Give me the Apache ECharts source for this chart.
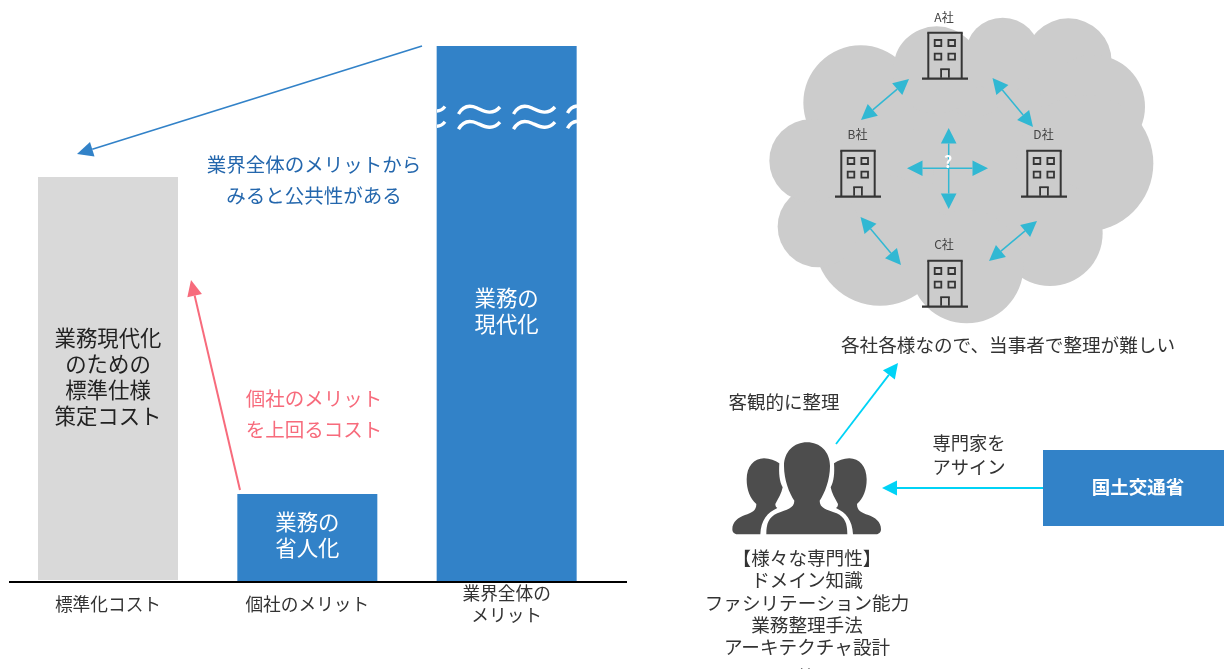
<!DOCTYPE html>
<html>
<head>
<meta charset="utf-8">
<style>html,body{margin:0;padding:0;background:#fff}#chart{width:1224px;height:669px}</style>
<script src="https://cdn.jsdelivr.net/npm/echarts@6/dist/echarts.min.js"></script>
</head>
<body>
<div id="chart"></div>
<script>
// Cost / benefit columns
const categories = ['標準化コスト', '個社のメリット', '業界全体の\nメリット'];
const barValues = [404, 87, 535];
const barLabels = ['業務現代化\nのための\n標準仕様\n策定コスト', '業務の\n省人化', '業務の\n現代化'];
const barColors = ['#d9d9d9', '#3282c8', '#3282c8'];
const barLabelColors = ['#222222', '#ffffff', '#ffffff'];

// Side notes and the right-hand diagram wording
const publicNote = ['業界全体のメリットから', 'みると公共性がある'];
const privateNote = ['個社のメリット', 'を上回るコスト'];
const companies = ['A社', 'B社', 'C社', 'D社'];
const cloudCaption = '各社各様なので、当事者で整理が難しい';
const objectiveNote = '客観的に整理';
const assignNote = ['専門家を', 'アサイン'];
const ministry = '国土交通省';
const expertise = ['【様々な専門性】', 'ドメイン知識', 'ファシリテーション能力', '業務整理手法', 'アーキテクチャ設計', '等'];

const FONT = '"Noto Sans CJK JP","Noto Sans",sans-serif';
const BLUE = '#3282c8', RED = '#f76b7c', CYAN = '#00d3f6', TEAL = '#31b8d3', DARK = '#353535', CLOUD = '#cccccc';
const gfx = [];

// Named SVG outlines usable as graphic element types
function outline(name, d) {
  echarts.graphic.registerShape(name, echarts.graphic.extendPath(d, {}));
}
outline('waveFull', 'M458.5,114 C463,106 470,105 477,108 C484,111 492,116 500,107');
outline('waveLeft', 'M437,111 C440,111 443,109 445,106.5');
outline('waveRight', 'M567.5,113 C570,108 573,106.5 577,106');
outline('sideFigure', 'M127,298 C127,275 145,262 165,255 C185,248 199,243 199,222 C180,205 170,180 170,148 C170,110 192,85 222,85 C240,85 255,92 268,100 C266,130 268,155 278,172 C275,190 265,205 256,222 C256,228 258,232 262,234 C232,248 213,270 211,313 L142,313 C132,313 127,306 127,298 Z');
outline('midFigure', 'M229,313 C229,280 236,262 262,250 C290,238 313,235 313,212 C298,190 282,150 282,108 C282,65 312,37 351,37 C390,37 420,65 420,108 C420,150 404,190 389,212 C389,235 410,238 440,250 C465,262 472,280 472,313 Z');

function text(str, x, y, size, fill, weight) {
  gfx.push({ type: 'text', z: 20, style: { text: str, x, y, fill, font: (weight || 'normal') + ' ' + size + 'px ' + FONT, textAlign: 'center', textVerticalAlign: 'middle', align: 'center', verticalAlign: 'middle' } });
}
function rect(x, y, width, height, fill, z) {
  gfx.push({ type: 'rect', z: z || 5, shape: { x, y, width, height }, style: { fill } });
}
function strokeRect(x, y, width, height) {
  gfx.push({ type: 'rect', z: 6, shape: { x, y, width, height }, style: { fill: 'none', stroke: DARK, lineWidth: 1.8 } });
}
function line(x1, y1, x2, y2, stroke, lineWidth, z) {
  gfx.push({ type: 'line', z: z || 6, shape: { x1, y1, x2, y2 }, style: { stroke, lineWidth } });
}
function head(tipX, tipY, ux, uy, len, half, fill) {
  const bx = tipX - ux * len, by = tipY - uy * len;
  gfx.push({ type: 'polygon', z: 7, shape: { points: [[tipX, tipY], [bx - uy * half, by + ux * half], [bx + uy * half, by - ux * half]] }, style: { fill } });
}
function arrow(x1, y1, x2, y2, color, width, len, half, both) {
  const d = Math.hypot(x2 - x1, y2 - y1), ux = (x2 - x1) / d, uy = (y2 - y1) / d;
  line(both ? x1 + ux * len : x1, both ? y1 + uy * len : y1, x2 - ux * len, y2 - uy * len, color, width);
  head(x2, y2, ux, uy, len, half, color);
  if (both) head(x1, y1, -ux, -uy, len, half, color);
}

// Baseline under the columns, with the small gap below the grey one
line(9, 582, 627, 582, '#000000', 2, 8);
rect(37, 580, 142, 1, '#ffffff', 4);

// Broken-scale mark across the tall column
[0, 15.2].forEach(dy => {
  [0, 55].forEach(dx => gfx.push({ type: 'waveFull', z: 10, x: dx, y: dy, style: { fill: 'none', stroke: '#ffffff', lineWidth: 3.4 } }));
  gfx.push({ type: 'waveLeft', z: 10, y: dy, style: { fill: 'none', stroke: '#ffffff', lineWidth: 3.4 } });
  gfx.push({ type: 'waveRight', z: 10, y: dy, style: { fill: 'none', stroke: '#ffffff', lineWidth: 3.4 } });
});

// Left-hand arrows and notes
arrow(422, 46, 77, 154, BLUE, 1.7, 16, 7.5);
arrow(240, 490, 191, 280, RED, 2, 16, 7.5);
publicNote.forEach((s, i) => text(s, 314, 165 + i * 31, 19.5, '#2467ad'));
privateNote.forEach((s, i) => text(s, 314, 399 + i * 31, 19.5, RED));

// Cloud built from overlapping lobes
[[600, 490, 330], [350, 520, 170], [640, 240, 110], [302, 308, 172], [530, 210, 131], [728, 165, 112], [925, 185, 130], [1000, 320, 155],
 [975, 490, 205], [870, 700, 158], [620, 800, 170], [360, 720, 197], [175, 680, 122], [152, 482, 124]]
  .forEach(c => gfx.push({ type: 'circle', z: 2, shape: { cx: 760 + c[0] / 3, cy: c[1] / 3, r: c[2] / 3 }, style: { fill: CLOUD } }));

// Office buildings
function building(cx, top) {
  const l = cx - 16.7, w = 33.4, h = 45.5;
  line(l, top + h, l, top, DARK, 2);
  line(l - 1, top, l + w + 1, top, DARK, 2);
  line(l + w, top, l + w, top + h, DARK, 2);
  line(cx - 23, top + 46, cx + 23, top + 46, DARK, 2.2);
  [[-10.3, 7.3], [3.4, 7.3], [-10.3, 21], [3.4, 21]].forEach(p => strokeRect(cx + p[0], top + p[1], 6.6, 6));
  line(cx - 3.9, top + 45, cx - 3.9, top + 36.5, DARK, 1.8);
  line(cx - 4.8, top + 36.5, cx + 4.8, top + 36.5, DARK, 1.8);
  line(cx + 3.9, top + 36.5, cx + 3.9, top + 45, DARK, 1.8);
}
const sites = [[945, 32.7, 944, 17], [858, 150.7, 857.5, 134], [945, 260.7, 944, 244], [1044, 150.7, 1043.5, 134]];
sites.forEach((s, i) => { building(s[0], s[1]); text(companies[i], s[2], s[3], 12, '#444444'); });

// Links between the companies
[[909, 79, 861, 120], [992.5, 78, 1033, 127], [860.5, 217, 901, 265], [1037, 221, 989, 261],
 [948.7, 128, 948.7, 209], [907, 168.3, 988, 168.3]]
  .forEach(a => arrow(a[0], a[1], a[2], a[3], TEAL, 1.5, 15.5, 7.8, true));
text('?', 948, 161.5, 16, '#ffffff', 'bold');

// Experts group
[['sideFigure', 690, 1 / 3], ['sideFigure', 690 + 700 / 3, -1 / 3], ['midFigure', 690, 1 / 3]].forEach(f => {
  gfx.push({ type: f[0], z: 6, x: f[1], y: 430, scaleX: f[2], scaleY: 1 / 3, style: { fill: '#4d4d4d' } });
});
expertise.slice(0, 5).forEach((s, i) => text(s, 807, 558 + i * 22.3, 18.6, '#333333'));
text(expertise[5], 807, 677, 18.6, '#333333');

// Right-hand connectors and labels
arrow(836, 444, 898, 363, CYAN, 1.8, 15, 7.5);
arrow(1043, 488, 882, 488, CYAN, 1.8, 15, 7.5);
rect(1043, 450, 181, 76, BLUE);
text(ministry, 1138, 487, 18.5, '#ffffff', 'bold');
text(cloudCaption, 1008, 345, 18.6, '#333333');
text(objectiveNote, 784, 402, 18.5, '#333333');
assignNote.forEach((s, i) => text(s, 969, 443 + i * 24, 18.3, '#333333'));

const chart = echarts.init(document.getElementById('chart'));
chart.setOption({
  animation: false,
  backgroundColor: '#ffffff',
  grid: { left: 8.33, top: 0, width: 598, height: 581 },
  xAxis: {
    type: 'category', data: categories,
    axisLine: { show: false }, axisTick: { show: false },
    axisLabel: { interval: 0, margin: 23, verticalAlign: 'middle', fontFamily: FONT, fontSize: 17.7, lineHeight: 22, color: '#333333' }
  },
  yAxis: { type: 'value', min: 0, max: 581, show: false, splitLine: { show: false } },
  series: [{
    type: 'bar', barWidth: 140, silent: true,
    data: barValues.map((value, i) => ({
      value,
      itemStyle: { color: barColors[i] },
      label: { show: true, position: 'inside', offset: [0, -2.5], formatter: barLabels[i], color: barLabelColors[i], fontFamily: FONT, fontSize: 21.4, lineHeight: 26 }
    }))
  }],
  graphic: gfx
});
</script>
</body>
</html>
